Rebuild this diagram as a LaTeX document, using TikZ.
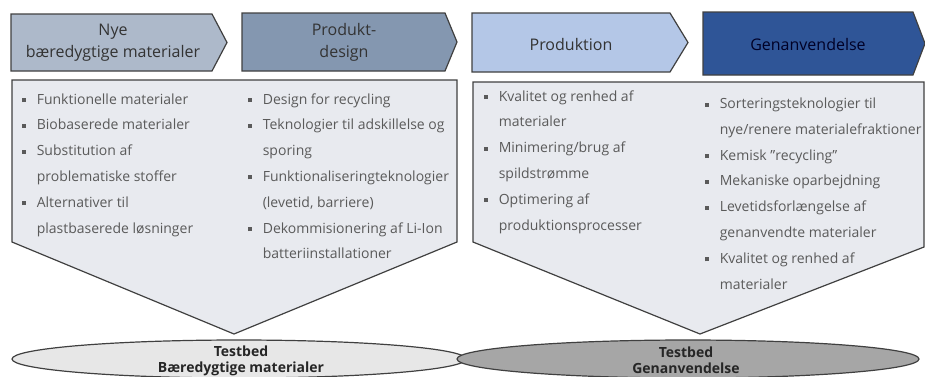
\documentclass[tikz,border=0pt]{standalone}
\usepackage{fontspec}
\setmainfont{Open Sans}
\definecolor{nyefarve}{HTML}{ADB9CA}
\definecolor{designfarve}{HTML}{8497B0}
\definecolor{prodfarve}{HTML}{B4C7E7}
\definecolor{genanfarve}{HTML}{2F5597}
\definecolor{boks}{HTML}{E8EAEF}
\definecolor{lys}{HTML}{E7E7E7}
\definecolor{mork}{HTML}{A6A6A6}
\definecolor{kant}{HTML}{404040}
\definecolor{tekst}{HTML}{5A5A5A}
\newcommand\bul{\makebox[10.9pt][l]{\rule[1.5pt]{3pt}{3pt}}}
\newcommand\ind{\hspace*{10.9pt}}
\begin{document}
\begin{tikzpicture}[x=.75pt,y=-.75pt,
  fase/.style={draw=kant,line width=.9pt},
  hd/.style={align=center,text=black!80,font=\fontsize{12}{16.5}\selectfont},
  pkt/.style={anchor=base west,align=left,inner sep=0,text=tekst,font=\fontsize{10.5}{19.35}\selectfont},
  tb/.style={align=center,text=black!85,font=\bfseries\fontsize{10.5}{12}\selectfont}]
\useasboundingbox (0,0) rectangle (925,376);
% kasser
\draw[fase,fill=boks](12,80)--(457,80)--(457,242)--(234,334)--(12,242)--cycle;
\draw[fase,fill=boks](473,82)--(924,82)--(924,247)--(700,334)--(473,242)--cycle;
% pile
\draw[fase,fill=nyefarve](11,14)--(212,14)--(227,42.5)--(212,71)--(11,71)--cycle;
\draw[fase,fill=designfarve](242,13)--(445,13)--(457,42)--(445,71)--(242,71)--cycle;
\draw[fase,fill=prodfarve](472,13)--(670,13)--(688,42.5)--(670,72)--(472,72)--cycle;
\draw[fase,fill=genanfarve](703,12)--(913,12)--(925,43.5)--(913,75)--(703,75)--cycle;
% testbeds
\draw[fase,fill=lys](239,359) ellipse [x radius=170.25pt,y radius=14.25pt];
\draw[fase,fill=mork](688,359) ellipse [x radius=173.25pt,y radius=14.25pt];
\node[hd](nye) at (113,42.5){Nye\\bæredygtige materialer};
\node[hd](design) at (344,42){Produkt-\\design};
\node[hd](prod) at (571,44){Produktion};
\node[hd,text=black!85!blue](genan) at (808,44){Genanvendelse};
% punkter (ankret i sidste linjes grundlinje)
\node[pkt](p1) at (22,233){\bul Funktionelle materialer\\
  \bul Biobaserede materialer\\
  \bul Substitution af\\
  \ind problematiske stoffer\\
  \bul Alternativer til\\
  \ind plastbaserede løsninger};
\node[pkt](p2) at (248,258.8){\bul Design for recycling\\
  \bul Teknologier til adskillelse og\\
  \ind sporing\\
  \bul Funktionaliseringteknologier\\
  \ind (levetid, barriere)\\
  \bul Dekommisionering af Li-Ion\\
  \ind batteriinstallationer};
\node[pkt](p3) at (484,230){\bul Kvalitet og renhed af\\
  \ind materialer\\
  \bul Minimering/brug af\\
  \ind spildstrømme\\
  \bul Optimering af\\
  \ind produktionsprocesser};
\node[pkt](p4) at (705,289.1){\bul Sorteringsteknologier til\\
  \ind nye/renere materialefraktioner\\
  \bul Kemisk "recycling"\\
  \bul Mekaniske oparbejdning\\
  \bul Levetidsforlængelse af\\
  \ind genanvendte materialer\\
  \bul Kvalitet og renhed af\\
  \ind materialer};
\node[tb](tb1) at (241,360.5){Testbed\\Bæredygtige materialer};
\node[tb](tb2) at (686,360.5){Testbed\\Genanvendelse};
\end{tikzpicture}
\end{document}
